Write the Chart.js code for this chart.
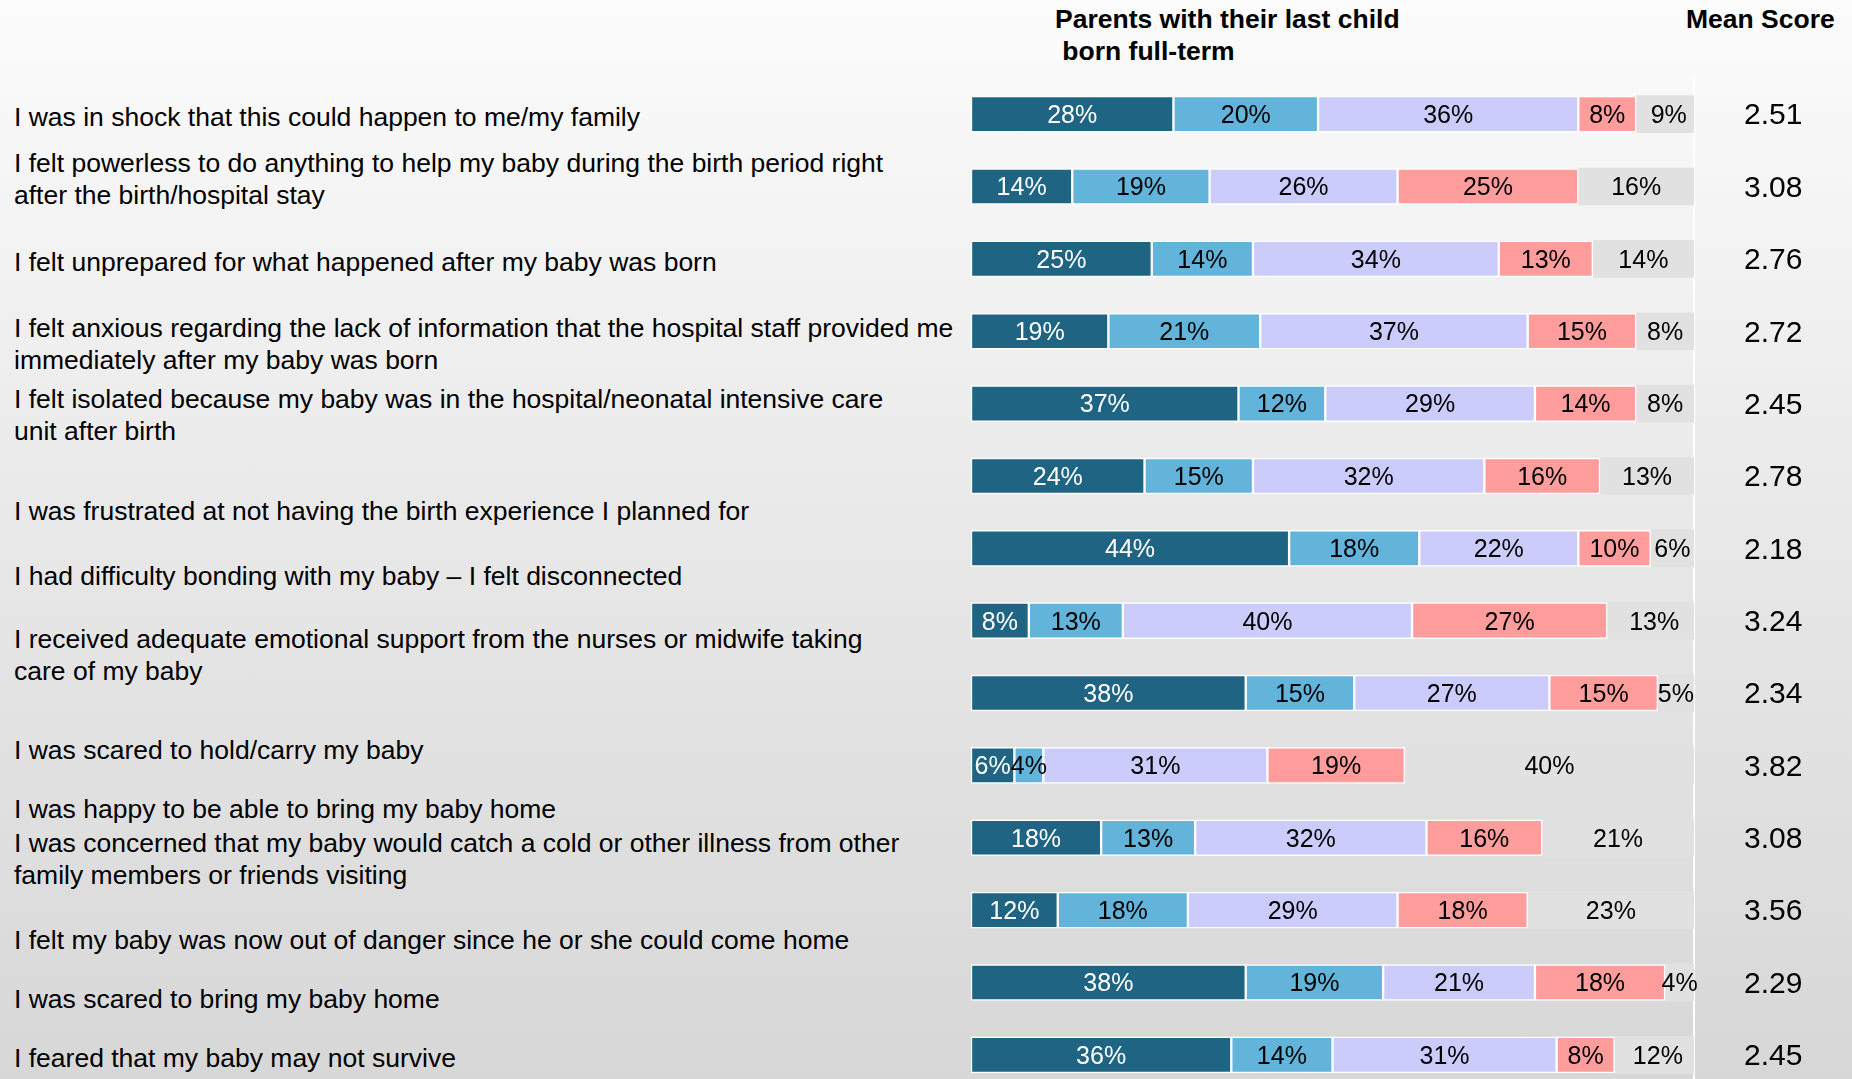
<!DOCTYPE html>
<html lang="en">
<head>
<meta charset="UTF-8" />
<title>Parents with their last child born full-term</title>
<script src="https://cdn.jsdelivr.net/npm/chart.js@4.4.0/dist/chart.umd.min.js"></script>
<style>
  html, body { margin: 0; width: 1852px; height: 1079px; overflow: hidden; }
  body {
    position: relative;
    color: #000;
    font-family: "Liberation Sans", Arial, sans-serif;
    background: linear-gradient(to bottom, #fcfcfc 0%, #f7f7f7 12%, #e8e8e8 50%, #d7d7d7 100%);
  }
  .head { position: absolute; top: 3px; font-weight: bold; font-size: 26.5px; line-height: 32px; white-space: pre; }
  .stmt { position: absolute; left: 14px; font-size: 26.5px; line-height: 32px; white-space: pre; }
  #wrap { position: absolute; left: 0; top: 0; width: 1852px; height: 1100px; }
</style>
</head>
<body>
<div class="head" style="left:1055px">Parents with their last child
 born full-term</div>
<div class="head" style="left:1686px">Mean Score</div>
<div id="labels"></div>
<div id="wrap"><canvas id="chart" width="1852" height="1100"></canvas></div>

<script>
// statements, top to bottom
const statements = [
  "I was in shock that this could happen to me/my family",
  "I felt powerless to do anything to help my baby during the birth period right\nafter the birth/hospital stay",
  "I felt unprepared for what happened after my baby was born",
  "I felt anxious regarding the lack of information that the hospital staff provided me\nimmediately after my baby was born",
  "I felt isolated because my baby was in the hospital/neonatal intensive care\nunit after birth",
  "I was frustrated at not having the birth experience I planned for",
  "I had difficulty bonding with my baby \u2013 I felt disconnected",
  "I received adequate emotional support from the nurses or midwife taking\ncare of my baby",
  "I was scared to hold/carry my baby",
  "I was happy to be able to bring my baby home",
  "I was concerned that my baby would catch a cold or other illness from other\nfamily members or friends visiting",
  "I felt my baby was now out of danger since he or she could come home",
  "I was scared to bring my baby home",
  "I feared that my baby may not survive",
];

// response shares in %, darkest segment first
const level1 = [28, 14, 25, 19, 37, 24, 44, 8, 38, 6, 18, 12, 38, 36];
const level2 = [20, 19, 14, 21, 12, 15, 18, 13, 15, 4, 13, 18, 19, 14];
const level3 = [36, 26, 34, 37, 29, 32, 22, 40, 27, 31, 32, 29, 21, 31];
const level4 = [8, 25, 13, 15, 14, 16, 10, 27, 15, 19, 16, 18, 18, 8];
const level5 = [9, 16, 14, 8, 8, 13, 6, 13, 5, 40, 21, 23, 4, 12];

const meanScores = ["2.51", "3.08", "2.76", "2.72", "2.45", "2.78", "2.18", "3.24", "2.34", "3.82", "3.08", "3.56", "2.29", "2.45"];

// layout only: top of each statement text block (px)
const stmtTop = [101, 147, 246, 312, 383, 495, 560, 623, 734, 793, 827, 924, 983, 1042];

const labelBox = document.getElementById("labels");
statements.forEach((s, i) => {
  const d = document.createElement("div");
  d.className = "stmt";
  d.style.top = stmtTop[i] + "px";
  d.textContent = s;
  labelBox.appendChild(d);
});

const FONT = '"Liberation Sans", Arial, sans-serif';

// % inside each segment + mean score column to the right
const textLayer = {
  id: "textLayer",
  afterDatasetsDraw(chart) {
    const { ctx, chartArea } = chart;
    const yScale = chart.scales.y;
    ctx.save();
    ctx.font = "25px " + FONT;
    ctx.textAlign = "center";
    ctx.textBaseline = "middle";
    chart.data.datasets.forEach((ds, i) => {
      chart.getDatasetMeta(i).data.forEach((bar, j) => {
        ctx.fillStyle = i === 0 ? "#fff" : "#000";
        ctx.fillText(ds.data[j] + "%", (bar.x + bar.base) / 2, bar.y + 2);
      });
    });
    ctx.font = "30px " + FONT;
    ctx.textAlign = "left";
    ctx.fillStyle = "#000";
    meanScores.forEach((m, i) => {
      ctx.fillText(m, chartArea.right + 50, yScale.getPixelForValue(i) + 2);
    });
    ctx.restore();
  },
};

const seg = (data, color, extra) => Object.assign({
  data,
  backgroundColor: color,
  borderColor: "#ffffff",
  borderWidth: 1.5,
  borderSkipped: false,
  barThickness: 36,
}, extra);

new Chart(document.getElementById("chart"), {
  type: "bar",
  data: {
    labels: statements.map((_, i) => "r" + (i + 1)),
    datasets: [
      seg(level1, "#1f6483"),
      seg(level2, "#62b4da"),
      seg(level3, "#ccccfc"),
      seg(level4, "#ff9d9d"),
      seg(level5, "#e1e1e1", { borderWidth: 0, barThickness: 37, clip: 0 }),
    ],
  },
  options: {
    indexAxis: "y",
    responsive: false,
    animation: false,
    layout: { padding: { left: 971, top: 78, bottom: 9, right: 0 } },
    plugins: { legend: { display: false }, tooltip: { enabled: false } },
    scales: {
      x: { stacked: true, min: 0, max: 100, display: false },
      y: { stacked: true, display: false },
      y2: {
        type: "category",
        labels: meanScores,
        position: "right",
        grid: { display: false, drawTicks: false },
        border: { display: true, color: "#ffffff", width: 2 },
        ticks: { display: false },
        afterFit(scale) { scale.width = 158; },
      },
    },
  },
  plugins: [textLayer],
});
</script>
</body>
</html>
